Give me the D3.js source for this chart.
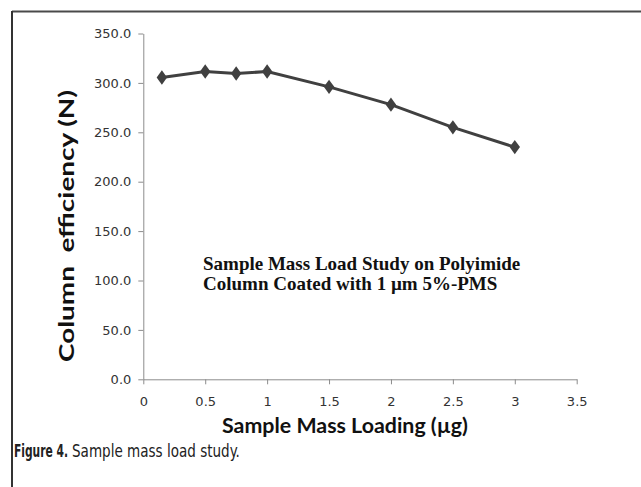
<!DOCTYPE html>
<html>
<head>
<meta charset="utf-8">
<script src="https://cdn.jsdelivr.net/npm/d3@7"></script>
<style>
  body { margin: 0; background: #fff; }
  svg { display: block; }
</style>
</head>
<body>
<div id="main"></div>
<script>
var ctx = {
    w: 641,
    h: 487,
    left: 143.3,
    right: 576.7,
    top: 33.5,
    bottom: 379.3
};

// data
var massLoading = [0.15, 0.5, 0.75, 1, 1.5, 2, 2.5, 3];
var efficiency = [305.5, 311.5, 309.5, 311.5, 296, 278, 255, 235];
var xTicks = [0, 0.5, 1, 1.5, 2, 2.5, 3, 3.5];
var yTicks = [0, 50, 100, 150, 200, 250, 300, 350];
var noteLines = ["Sample Mass Load Study on Polyimide", "Column Coated with 1 \u00b5m 5%-PMS"];

// squeeze a text horizontally so it spans the given width (condensed caption font)
var squeeze = function(sel, x, y, width){
    var natural = sel.node().getComputedTextLength();
    sel.attr("transform", "translate(" + x + "," + y + ") scale(" + (width / natural) + ",1)");
};

var createViz = function(){
    var svgEl = d3.select("#main").append("svg")
        .attr("width", ctx.w)
        .attr("height", ctx.h);

    // frame round the figure (left and top only are visible)
    svgEl.append("line")
        .attr("x1", 12).attr("y1", 11.5).attr("x2", ctx.w).attr("y2", 11.5)
        .style("stroke", "#4a4a4a").style("stroke-width", 2);
    svgEl.append("line")
        .attr("x1", 12).attr("y1", 11).attr("x2", 12).attr("y2", ctx.h)
        .style("stroke", "#333").style("stroke-width", 2);

    ctx.xScale = d3.scaleLinear().domain([0, 3.5]).range([ctx.left, ctx.right]);
    ctx.yScale = d3.scaleLinear().domain([0, 350]).range([ctx.bottom, ctx.top]);

    // x axis
    var xAxis = svgEl.append("g")
        .attr("transform", "translate(0," + ctx.bottom + ")")
        .call(d3.axisBottom(ctx.xScale).tickValues(xTicks)
            .tickFormat(function(d){ return d; }).tickSizeInner(5).tickSizeOuter(0));
    // y axis
    var yAxis = svgEl.append("g")
        .attr("transform", "translate(" + ctx.left + ",0)")
        .call(d3.axisLeft(ctx.yScale).tickValues(yTicks)
            .tickFormat(d3.format(".1f")).tickSizeInner(5).tickSizeOuter(0));

    [xAxis, yAxis].forEach(function(ax){
        ax.attr("font-size", null).attr("font-family", null);
        ax.select(".domain").style("stroke", "#8c8c8c");
        ax.selectAll(".tick line").style("stroke", "#8c8c8c");
        ax.selectAll("text")
            .style("font-family", "'DejaVu Sans', sans-serif")
            .style("font-size", "13px")
            .style("fill", "#333");
    });
    xAxis.selectAll("text").attr("y", 17);
    yAxis.selectAll("text").attr("x", -12);

    // series line
    var line = d3.line()
        .x(function(d, i){ return ctx.xScale(massLoading[i]); })
        .y(function(d){ return ctx.yScale(d); });
    svgEl.append("path")
        .datum(efficiency)
        .attr("d", line)
        .style("fill", "none")
        .style("stroke", "#404040")
        .style("stroke-width", 3);

    // diamond markers
    var diamond = d3.symbol().type(d3.symbolDiamond).size(60);
    svgEl.selectAll("path.marker")
        .data(efficiency)
        .enter()
        .append("path")
        .attr("class", "marker")
        .attr("d", diamond())
        .attr("transform", function(d, i){
            return "translate(" + ctx.xScale(massLoading[i]) + "," + ctx.yScale(d) + ") scale(1.25,1)";
        })
        .style("fill", "#404040");

    // note inside the plot
    svgEl.selectAll("text.note")
        .data(noteLines)
        .enter()
        .append("text")
        .attr("class", "note")
        .attr("x", 203)
        .attr("y", function(d, i){ return 270 + i * 19.5; })
        .style("font-family", "'Liberation Serif', 'Times New Roman', serif")
        .style("font-weight", "bold")
        .style("font-size", "19px")
        .style("fill", "#111")
        .text(function(d){ return d; });

    // x-axis label
    svgEl.append("text")
        .attr("x", 345)
        .attr("y", 433)
        .attr("textLength", 246)
        .attr("lengthAdjust", "spacingAndGlyphs")
        .style("text-anchor", "middle")
        .style("font-family", "Lato, sans-serif")
        .style("font-weight", "bold")
        .style("font-size", "20px")
        .style("fill", "#111")
        .text("Sample Mass Loading (\u00b5g)");

    // y-axis label
    svgEl.append("text")
        .attr("transform", "translate(74,226) rotate(-90)")
        .attr("textLength", 272)
        .attr("lengthAdjust", "spacingAndGlyphs")
        .style("text-anchor", "middle")
        .style("font-family", "Lato, sans-serif")
        .style("font-weight", "bold")
        .style("font-size", "20.5px")
        .style("fill", "#111")
        .text("Column\u00a0 efficiency (N)");

    // caption: bold figure number, then the plain description
    var capBold = svgEl.append("text")
        .style("font-family", "'DejaVu Sans Condensed', 'DejaVu Sans', sans-serif")
        .style("font-weight", "bold")
        .style("font-size", "18px")
        .style("fill", "#222")
        .text("Figure 4.");
    squeeze(capBold, 14, 457, 54);
    var capText = svgEl.append("text")
        .style("font-family", "'DejaVu Sans Condensed', 'DejaVu Sans', sans-serif")
        .style("font-size", "18px")
        .style("fill", "#222")
        .text("Sample mass load study.");
    squeeze(capText, 72, 457, 168);
};

createViz();
</script>
</body>
</html>
